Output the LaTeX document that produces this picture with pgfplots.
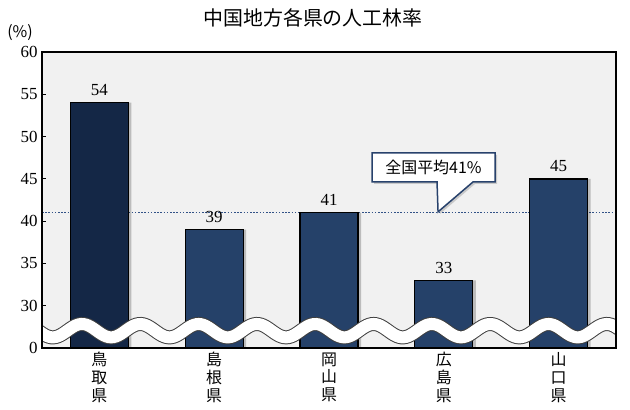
\documentclass[border=0pt]{standalone}
\usepackage{pgfplots}
\pgfplotsset{compat=1.18}
\usepackage{fontspec}
\setmainfont{Liberation Serif}
\newfontfamily\cjk{Noto Sans CJK JP}
\usetikzlibrary{shadows}
\definecolor{navyA}{RGB}{20,39,70}
\definecolor{navyB}{RGB}{37,65,105}
\definecolor{avgline}{RGB}{50,82,135}
\definecolor{bgc}{RGB}{241,241,241}
\begin{document}
\begin{tikzpicture}
\useasboundingbox (-42bp,-62bp) rectangle (588bp,348bp);
\begin{axis}[
  at={(0,0)}, anchor=south west,
  scale only axis, width=574bp, height=296bp,
  xmin=-0.5, xmax=4.5, ymin=25, ymax=60,
  axis background/.style={fill=bgc},
  axis line style={black, line width=1.6bp},
  axis on top,
  xtick={0,1,2,3,4},
  xticklabels={鳥\\取\\県, 島\\根\\県, 岡\\山\\県, 広\\島\\県, 山\\口\\県},
  xticklabel style={align=center, font=\cjk\fontsize{16}{18}\selectfont, yshift=-1bp},
  xtick style={draw=none},
  ytick={25,30,35,40,45,50,55,60},
  yticklabels={0,30,35,40,45,50,55,60},
  yticklabel style={font=\fontsize{17}{19}\selectfont, xshift=-1bp},
  /pgf/number format/assume math mode=true,
  ytick pos=left, tick align=inside, major tick length=4bp,
  ytick style={black, line width=1bp},
  clip=true,
]
% national average line
\addplot[avgline, line width=1.6bp, dash pattern=on 1.6bp off 1.6bp] coordinates {(-0.5,41) (4.5,41)};
% shadows
\addplot[ybar, bar width=58bp, bar shift=3bp, fill=black, fill opacity=0.22, draw=none]
  coordinates {(0,54) (1,39) (2,41) (3,33) (4,45)};
% bars
\addplot[ybar, bar width=58bp, bar shift=0bp, fill=navyA, draw=black, line width=1.3bp,
  nodes near coords, every node near coord/.append style={font=\fontsize{17}{19}\selectfont, black, yshift=3bp}]
  coordinates {(0,54)};
\addplot[ybar, bar width=58bp, bar shift=0bp, fill=navyB, draw=black, line width=1.3bp,
  nodes near coords, every node near coord/.append style={font=\fontsize{17}{19}\selectfont, black, yshift=3bp}]
  coordinates {(1,39) (2,41) (3,33) (4,45)};
% axis break wave
\draw[black!75, line width=14bp, domain=-0.6:4.6, samples=260, smooth]
  plot (\x, {27.05+0.792*cos(360*(\x+0.152)/0.508)});
\draw[white, line width=12bp, domain=-0.6:4.6, samples=260, smooth]
  plot (\x, {27.05+0.792*cos(360*(\x+0.152)/0.508)});
% callout
\draw[avgline!80!black, line width=1.5bp, fill=white, line join=miter,
  drop shadow={opacity=0.35, shadow xshift=2bp, shadow yshift=-2bp}]
  (2.375,48.06) -- (3.446,48.06) -- (3.446,44.63) -- (3.254,44.63) -- (2.950,41.1)
  -- (2.941,44.63) -- (2.375,44.63) -- cycle;
\node[font=\cjk\fontsize{16}{18}\selectfont] at (2.91,46.35) {全国平均41\%};
\end{axis}
\node[font=\cjk\fontsize{20}{22}\selectfont] at (271bp,330bp) {中国地方各県の人工林率};
\node[font=\cjk\fontsize{16}{18}\selectfont] at (-22bp,315bp) {(\%)};
\end{tikzpicture}
\end{document}
